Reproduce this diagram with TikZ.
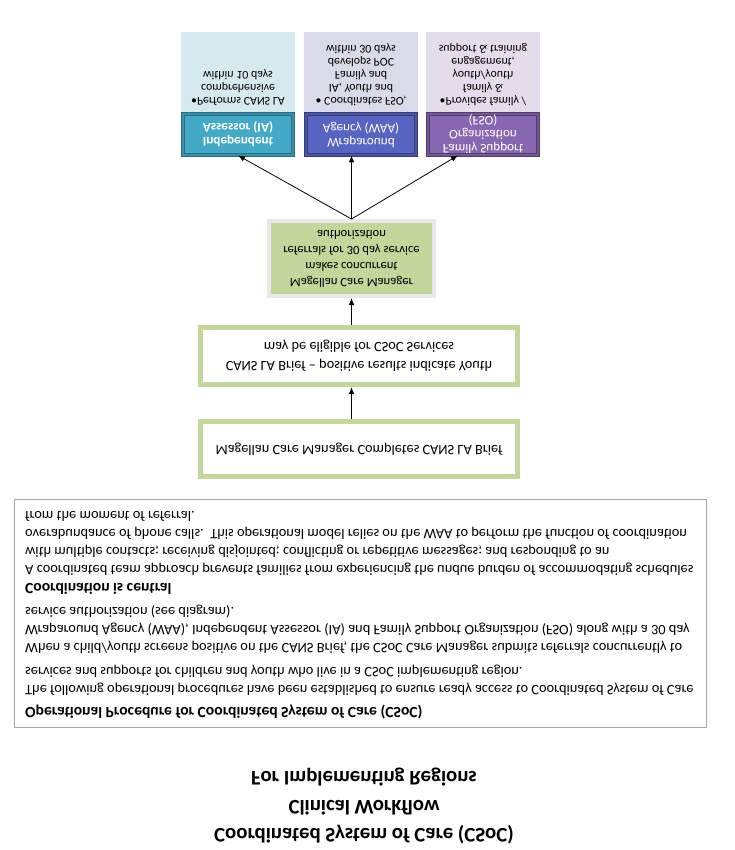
\documentclass[tikz,border=0pt]{standalone}
\usepackage{fontspec}
\setmainfont{Carlito}
\usepackage{xcolor}
\usepackage{tikz}
\usetikzlibrary{arrows.meta}
\definecolor{iateal}{HTML}{43A9C6}
\definecolor{ialight}{HTML}{D5E9EF}
\definecolor{waablue}{HTML}{5864C1}
\definecolor{waalight}{HTML}{DADAE8}
\definecolor{fsopurple}{HTML}{8767B0}
\definecolor{fsolight}{HTML}{E2DDEA}
\definecolor{csocgreen}{HTML}{C3D69B}
\definecolor{framegray}{HTML}{A6A6A6}
\definecolor{mgrrim}{HTML}{E8E8E8}

\tikzset{
  hdrbox/.style={rectangle, minimum width=110pt, minimum height=41pt, inner sep=0pt,
    line width=0.8pt, double distance=2.2pt, text=white, align=center,
    font=\fontsize{13.2}{14}\selectfont},
  lightbox/.style={rectangle, minimum width=114pt, minimum height=80pt, inner sep=0pt},
  lighttext/.style={anchor=north, align=center, inner sep=0pt,
    font=\fontsize{11.9}{13}\selectfont},
  flowbox/.style={rectangle, draw=csocgreen, line width=5pt, fill=white,
    minimum width=317pt, align=center, font=\fontsize{14.3}{19}\selectfont},
  arr/.style={-{Latex[length=7pt,width=5.5pt]}, line width=0.8pt},
}
\newcommand{\prochead}[1]{{\bfseries\fontsize{15.6}{18}\selectfont #1}}

\begin{document}
\begin{tikzpicture}[x=1pt, y=1pt, yscale=-1, transform shape]
  \useasboundingbox (0,0) rectangle (734,850);
  \fill[white] (0,0) rectangle (734,850);

  % the three service boxes
  \node[lightbox, fill=ialight] (iabody) at (238,72) {};
  \node[lightbox, fill=waalight] (waabody) at (361,72) {};
  \node[lightbox, fill=fsolight] (fsobody) at (483,72) {};
  \node[lighttext] (iatxt) at (238,106) {\textbullet Performs CANS LA\\comprehensive\\within 10 days};
  \node[lighttext] (waatxt) at (361,106) {\textbullet\ Coordinates FSO,\\IA, Youth and\\Family and\\develops POC\\within 30 days};
  \node[lighttext] (fsotxt) at (483,106) {\textbullet Provides family /\\family \&\\youth/youth\\engagement,\\support \& training};

  \node[hdrbox, fill=iateal, draw=iateal!65!black, double=iateal!85!black,
        font=\bfseries\fontsize{13.2}{14}\selectfont] (iahdr) at (238,134.5) {Independent\\Assessor (IA)};
  \node[hdrbox, fill=waablue, draw=waablue!60!black, double=waablue!85!black] (waahdr) at (361,134.5) {Wraparound\\Agency (WAA)};
  \node[hdrbox, fill=fsopurple, draw=fsopurple!60!black, double=fsopurple!85!black] (fsohdr) at (483,134.5) {Family Support\\Organization\\(FSO)};

  % flow
  \node[rectangle, fill=csocgreen, draw=mgrrim, line width=4pt, minimum width=165pt,
        minimum height=75pt, align=center, font=\fontsize{12.7}{16}\selectfont] (mgr) at (351.5,258.5)
        {Magellan Care Manager\\makes concurrent\\referrals for 30 day service\\authorization};
  \node[flowbox, minimum height=57pt] (brief) at (359,356)
        {CANS LA Brief -- positive results indicate Youth\\may be eligible for CSoC Services};
  \node[flowbox, minimum height=55pt] (complete) at (359,449)
        {Magellan Care Manager Completes CANS LA Brief};

  \draw[arr] (complete.south -| mgr.north) -- (brief.north -| mgr.north);
  \draw[arr] (brief.south -| mgr.north) -- (mgr.north);
  \draw[arr] (mgr.south) -- (iahdr.north);
  \draw[arr] (mgr.south) -- (mgr.south |- waahdr.north);
  \draw[arr] (mgr.south) -- ([xshift=-25pt]fsohdr.north);

  % procedure text
  \node[draw=framegray, line width=0.8pt, minimum width=692pt, minimum height=228pt] (procframe) at (360,613) {};
  \node[anchor=north west, align=left, inner sep=0pt, font=\fontsize{14.4}{18}\selectfont] (proc) at (25,719) {%
    \prochead{Operational Procedure for Coordinated System of Care (CSoC)}\\[4pt]
    The following operational procedures have been established to ensure ready access to Coordinated System of Care\\
    services and supports for children and youth who live in a CSoC implementing region.\\[6pt]
    When a child/youth screens positive on the CANS Brief, the CSoC Care Manager submits referrals concurrently to\\
    Wraparound Agency (WAA), Independent Assessor (IA) and Family Support Organization (FSO) along with a 30 day\\
    service authorization (see diagram).\\[6pt]
    \prochead{Coordination is central}\\
    A coordinated team approach prevents families from experiencing the undue burden of accommodating schedules\\
    with multiple contacts; receiving disjointed; conflicting or repetitive messages; and responding to an\\
    overabundance of phone calls.\ \ This operational model relies on the WAA to perform the function of coordination\\
    from the moment of referral.};

  % title
  \node[align=center, font=\bfseries\fontsize{20.8}{28.5}\selectfont] (title) at (364,806)
    {Coordinated System of Care (CSoC)\\Clinical Workflow\\For Implementing Regions};
\end{tikzpicture}
\end{document}
